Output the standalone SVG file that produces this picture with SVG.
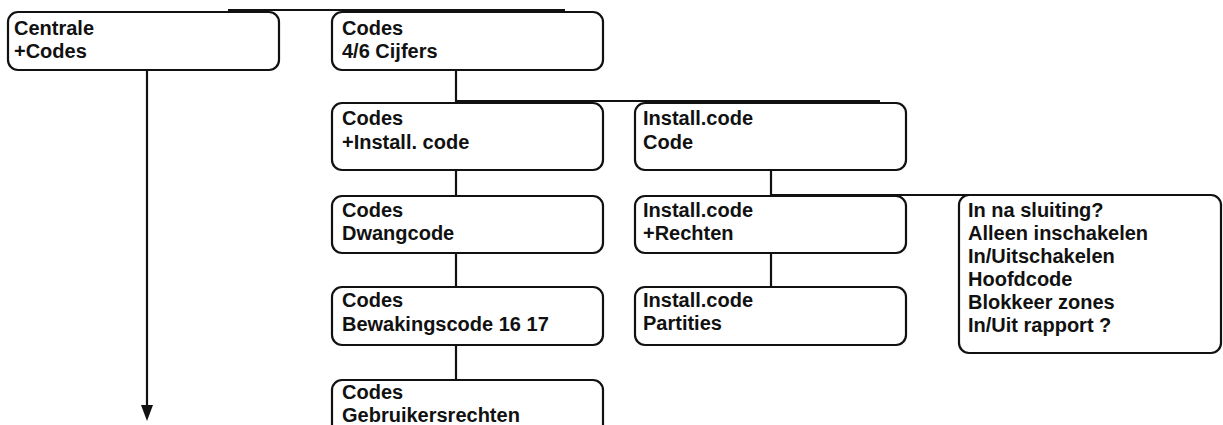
<svg xmlns="http://www.w3.org/2000/svg" width="1223" height="425" viewBox="0 0 1223 425">
<defs>
<style>
.box{fill:#fff;stroke:#111;stroke-width:2.2}
.ln{fill:none;stroke:#111;stroke-width:2.2}
text{font-family:"Liberation Sans",Arial,sans-serif;font-size:20px;font-weight:bold;fill:#111}
</style>
</defs>
<g id="connectors">
<line class="ln" x1="228" y1="10" x2="565" y2="10"/>
<line class="ln" x1="147" y1="70" x2="147" y2="405"/>
<polygon points="141,405 153,405 147,421" fill="#111"/>
<line class="ln" x1="456" y1="70" x2="456" y2="103"/>
<line class="ln" x1="456" y1="101" x2="880" y2="101"/>
<line class="ln" x1="456" y1="170" x2="456" y2="196"/>
<line class="ln" x1="456" y1="253" x2="456" y2="287"/>
<line class="ln" x1="456" y1="345" x2="456" y2="380"/>
<line class="ln" x1="771" y1="170" x2="771" y2="196"/>
<line class="ln" x1="771" y1="195" x2="1200" y2="195"/>
<line class="ln" x1="771" y1="253" x2="771" y2="287"/>
</g>
<g id="n1"><rect class="box" x="8" y="12" width="271" height="58" rx="10"/><text x="14" y="35">Centrale</text><text x="14" y="58">+Codes</text></g>
<g id="n2"><rect class="box" x="332" y="12" width="271" height="58" rx="10"/><text x="342" y="35">Codes</text><text x="342" y="58">4/6 Cijfers</text></g>
<g id="n3"><rect class="box" x="332" y="103" width="271" height="67" rx="10"/><text x="342" y="125">Codes</text><text x="342" y="149">+Install. code</text></g>
<g id="n4"><rect class="box" x="635" y="103" width="271" height="67" rx="10"/><text x="643" y="125">Install.code</text><text x="643" y="149">Code</text></g>
<g id="n5"><rect class="box" x="332" y="196" width="271" height="57" rx="10"/><text x="342" y="217">Codes</text><text x="342" y="240">Dwangcode</text></g>
<g id="n6"><rect class="box" x="635" y="196" width="271" height="57" rx="10"/><text x="643" y="217">Install.code</text><text x="643" y="240">+Rechten</text></g>
<g id="n7"><rect class="box" x="959" y="195" width="262" height="158" rx="10"/>
<text x="968" y="217">In na sluiting?</text><text x="968" y="240">Alleen inschakelen</text><text x="968" y="263">In/Uitschakelen</text><text x="968" y="286">Hoofdcode</text><text x="968" y="309">Blokkeer zones</text><text x="968" y="332">In/Uit rapport ?</text></g>
<g id="n8"><rect class="box" x="332" y="287" width="271" height="58" rx="10"/><text x="342" y="307">Codes</text><text x="342" y="331">Bewakingscode 16 17</text></g>
<g id="n9"><rect class="box" x="635" y="287" width="271" height="58" rx="10"/><text x="643" y="307">Install.code</text><text x="643" y="330">Partities</text></g>
<g id="n10"><rect class="box" x="332" y="380" width="271" height="58" rx="10"/><text x="342" y="399">Codes</text><text x="342" y="422">Gebruikersrechten</text></g>
</svg>
